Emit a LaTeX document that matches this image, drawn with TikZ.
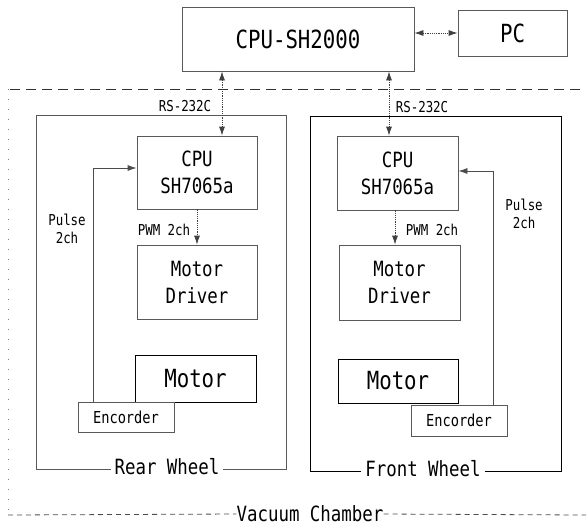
\documentclass[tikz,border=0pt]{standalone}
\usepackage{fontspec}
\setmainfont{DejaVu Sans Mono}[FakeStretch=0.83]
\usetikzlibrary{arrows.meta}
\tikzset{
  blk/.style={draw=black!65, line width=0.8pt, inner sep=0pt, align=center},
  solidblk/.style={draw=black, line width=0.9pt, inner sep=0pt, align=center},
  lbl/.style={inner sep=0pt, align=center},
  dotline/.style={draw=black!75, line width=0.8pt, dash pattern=on 1.2pt off 1pt},
  tipA/.style={-{Latex[length=9pt,width=6pt]}},
  tipB/.style={{Latex[length=9pt,width=6pt]}-{Latex[length=9pt,width=6pt]}},
  bigf/.style={font=\fontsize{25}{30}\selectfont},
  midf/.style={font=\fontsize{21}{27}\selectfont},
  motf/.style={font=\fontsize{25}{30}\selectfont},
  smallf/.style={font=\fontsize{15}{18}\selectfont},
  encf/.style={font=\fontsize{16.5}{20}\selectfont},
}
\begin{document}
\begin{tikzpicture}[x=1pt,y=-1pt]
\useasboundingbox (0,0) rectangle (586,528);

% top level
\node[blk, bigf, minimum width=232pt, minimum height=64pt] (sh) at (298,39) {CPU-SH2000};
\node[blk, bigf, minimum width=109pt, minimum height=46pt] (pc) at (512.5,33) {PC};
\draw[dotline, tipB] (sh.east |- pc.west) -- (pc.west);

% vacuum chamber boundary
\draw[black!80, line width=1pt, dash pattern=on 10pt off 6pt] (10,89) -- (586,89);
\node[lbl, midf] (vac) at (310,514) {Vacuum Chamber};
\draw[black!70, line width=0.8pt, dash pattern=on 5pt off 4pt] (8,515) -- (vac.west);
\draw[black!70, line width=0.8pt, dash pattern=on 5pt off 4pt] (vac.east) -- (586,515);
\draw[black!50, line width=0.8pt, dash pattern=on 1pt off 9pt] (8,89) -- (8,515);

% wheel frames
\draw[black!65, line width=0.8pt] (36,115) rectangle (286,469);
\node[lbl, midf, fill=white, inner xsep=4pt] (rear) at (167,467) {Rear Wheel};
\draw[black, line width=0.9pt] (310,116) rectangle (561,471);
\node[lbl, midf, fill=white, inner xsep=4pt] (front) at (423,469) {Front Wheel};

% rear column
\node[blk, midf, minimum width=120pt, minimum height=73pt] (cpuL) at (197,172.5) {CPU\\SH7065a};
\node[blk, midf, minimum width=120pt, minimum height=74pt] (drvL) at (197,282) {Motor\\Driver};
\node[solidblk, motf, minimum width=121pt, minimum height=47pt] (motL) at (195.5,378.5) {Motor};
\node[blk, encf, minimum width=96pt, minimum height=30pt, fill=white] (encL) at (126,417) {Encorder};

% front column
\node[blk, midf, minimum width=121pt, minimum height=74pt] (cpuR) at (397.5,173) {CPU\\SH7065a};
\node[blk, midf, minimum width=121pt, minimum height=75pt] (drvR) at (399.5,282.5) {Motor\\Driver};
\node[solidblk, motf, minimum width=120pt, minimum height=44pt] (motR) at (398,381) {Motor};
\node[blk, encf, minimum width=96pt, minimum height=31pt] (encR) at (459,420.5) {Encorder};

% RS-232C links
\draw[dotline, tipB] (sh.south -| 222,0) -- (cpuL.north -| 222,0);
\draw[dotline, tipB] (sh.south -| 389,0) -- (cpuR.north -| 389,0);
\node[lbl, smallf] (rsL) at (185,106) {RS-232C};
\node[lbl, smallf] (rsR) at (422,107) {RS-232C};

% PWM links
\draw[dotline, tipA] (cpuL.south) -- (drvL.north);
\draw[dotline, tipA] (cpuR.south -| 395,0) -- (drvR.north -| 395,0);
\node[lbl, smallf] (pwmL) at (164,230) {PWM 2ch};
\node[lbl, smallf] (pwmR) at (432,230) {PWM 2ch};

% pulse feedback
\coordinate (pL) at (93,168);
\coordinate (pR) at (493,171);
\draw[black!70, line width=0.8pt, tipA] (encL.north -| pL) -- (pL) -- (cpuL.west |- pL);
\draw[black!70, line width=0.8pt, tipA] (encR.north -| pR) -- (pR) -- (cpuR.east |- pR);
\node[lbl, smallf] (puL) at (67,229) {Pulse\\2ch};
\node[lbl, smallf] (puR) at (524,214) {Pulse\\2ch};
\end{tikzpicture}
\end{document}
